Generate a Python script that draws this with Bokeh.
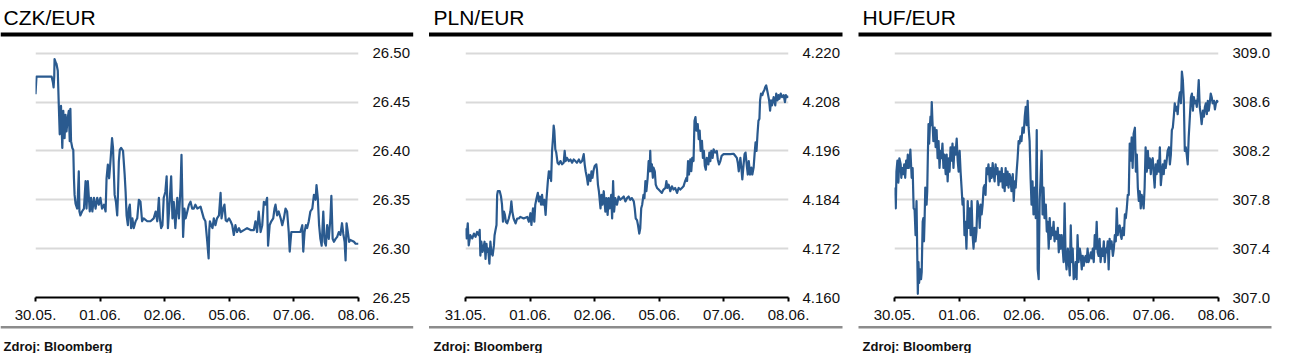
from bokeh.plotting import figure
from bokeh.layouts import row, column
from bokeh.models import Range1d, FixedTicker, PrintfTickFormatter, BoxAnnotation, Label
from bokeh.embed import file_html
from bokeh.resources import INLINE

# ---------------- data ----------------
titles = ["CZK/EUR", "PLN/EUR", "HUF/EUR"]
source_note = "Zdroj: Bloomberg"

tick_pos = [0, 20, 40, 60, 80, 100]
labels_czk = ["30.05.", "01.06.", "02.06.", "05.06.", "07.06.", "08.06."]
labels_pln = ["31.05.", "01.06.", "02.06.", "05.06.", "07.06.", "08.06."]
labels_huf = ["30.05.", "01.06.", "02.06.", "05.06.", "07.06.", "08.06."]

yticks_czk = [26.25, 26.30, 26.35, 26.40, 26.45, 26.50]
yticks_pln = [4.160, 4.172, 4.184, 4.196, 4.208, 4.220]
yticks_huf = [307.0, 307.4, 307.8, 308.2, 308.6, 309.0]

# (time index 0..100, rate)
czk_series = [
    (0.0, 26.458), (0.3, 26.476), (5.0, 26.476), (5.4, 26.470), (5.6, 26.465), (5.8, 26.476),
    (5.9, 26.494), (6.3, 26.490), (6.5, 26.489), (6.9, 26.482), (7.0, 26.470), (7.2, 26.448),
    (7.5, 26.417), (7.9, 26.446), (8.3, 26.403), (8.6, 26.441), (9.0, 26.413), (9.3, 26.437),
    (9.6, 26.420), (10.0, 26.434), (10.3, 26.441), (10.6, 26.410), (10.8, 26.443), (11.0, 26.410),
    (11.4, 26.403), (11.7, 26.401), (11.9, 26.372), (12.1, 26.355), (12.4, 26.346), (12.9, 26.341),
    (13.1, 26.352), (13.4, 26.379), (13.6, 26.338), (13.9, 26.334), (14.4, 26.338), (15.0, 26.341),
    (15.5, 26.369), (15.8, 26.341), (16.2, 26.369), (16.8, 26.338), (17.2, 26.352), (17.6, 26.338),
    (18.1, 26.352), (18.6, 26.341), (19.1, 26.352), (19.6, 26.345), (20.1, 26.352), (20.6, 26.341),
    (21.2, 26.345), (21.7, 26.338), (22.0, 26.372), (22.4, 26.386), (22.8, 26.372), (23.2, 26.389),
    (23.7, 26.413), (24.0, 26.403), (24.5, 26.355), (24.9, 26.348), (25.3, 26.334), (25.5, 26.352),
    (25.8, 26.389), (26.1, 26.401), (26.5, 26.403), (27.1, 26.400), (27.6, 26.376), (27.9, 26.358),
    (28.2, 26.334), (28.6, 26.324), (28.9, 26.341), (29.2, 26.345), (29.6, 26.321), (30.0, 26.331),
    (30.4, 26.321), (31.0, 26.328), (31.5, 26.331), (32.0, 26.350), (32.5, 26.348), (33.0, 26.328),
    (33.5, 26.331), (34.6, 26.328), (35.6, 26.328), (36.6, 26.331), (37.2, 26.338), (37.7, 26.328),
    (38.2, 26.352), (38.5, 26.331), (38.9, 26.321), (39.3, 26.324), (39.7, 26.352), (40.2, 26.358),
    (40.6, 26.374), (41.0, 26.321), (41.6, 26.352), (42.0, 26.374), (42.4, 26.331), (42.8, 26.348),
    (43.3, 26.321), (43.9, 26.352), (44.4, 26.331), (44.9, 26.362), (45.2, 26.396), (45.5, 26.345),
    (45.7, 26.312), (46.1, 26.341), (46.5, 26.331), (47.0, 26.338), (47.5, 26.345), (48.0, 26.348),
    (48.5, 26.341), (49.0, 26.341), (49.5, 26.345), (50.1, 26.341), (51.1, 26.343), (52.1, 26.331),
    (52.6, 26.328), (53.1, 26.310), (53.6, 26.290), (53.8, 26.319), (54.0, 26.328), (54.4, 26.324),
    (54.8, 26.321), (55.2, 26.331), (55.7, 26.324), (56.2, 26.331), (56.8, 26.334), (57.3, 26.357),
    (57.6, 26.331), (58.1, 26.341), (58.5, 26.345), (58.9, 26.329), (59.3, 26.328), (59.9, 26.331),
    (60.4, 26.328), (60.9, 26.324), (61.4, 26.314), (61.9, 26.324), (62.4, 26.317), (63.0, 26.321),
    (63.5, 26.317), (64.5, 26.319), (65.5, 26.321), (66.6, 26.319), (67.6, 26.319), (68.1, 26.328),
    (68.6, 26.317), (69.1, 26.338), (69.7, 26.317), (70.2, 26.324), (70.7, 26.348), (71.2, 26.345),
    (71.7, 26.352), (72.0, 26.303), (72.5, 26.324), (73.0, 26.328), (73.6, 26.331), (74.0, 26.341),
    (74.3, 26.345), (74.8, 26.334), (75.3, 26.338), (75.9, 26.331), (76.4, 26.324), (76.9, 26.331),
    (77.4, 26.341), (77.9, 26.338), (78.4, 26.317), (78.7, 26.297), (79.2, 26.317), (80.0, 26.317),
    (81.0, 26.317), (82.0, 26.317), (82.6, 26.324), (82.9, 26.297), (83.3, 26.317), (83.7, 26.324),
    (84.1, 26.321), (84.6, 26.328), (85.1, 26.338), (85.7, 26.341), (86.2, 26.355), (86.7, 26.350),
    (87.0, 26.365), (87.4, 26.352), (87.8, 26.324), (88.2, 26.310), (88.6, 26.303), (89.1, 26.338),
    (89.5, 26.307), (89.9, 26.303), (90.3, 26.324), (90.8, 26.310), (91.3, 26.331), (91.6, 26.354),
    (92.0, 26.310), (92.4, 26.307), (92.9, 26.310), (93.4, 26.312), (93.9, 26.317), (94.4, 26.314),
    (94.9, 26.326), (95.3, 26.315), (95.7, 26.307), (96.0, 26.288), (96.3, 26.326), (96.7, 26.317),
    (97.1, 26.307), (97.5, 26.309), (98.0, 26.308), (98.6, 26.307), (99.1, 26.305), (100.0, 26.305),
]

pln_series = [
    (0.0, 4.1770), (0.3, 4.1745), (0.7, 4.1782), (1.0, 4.1728), (1.5, 4.1753), (2.1, 4.1745),
    (2.6, 4.1757), (3.1, 4.1749), (3.6, 4.1761), (4.1, 4.1753), (4.4, 4.1766), (4.6, 4.1703),
    (4.9, 4.1737), (5.3, 4.1712), (5.7, 4.1728), (5.9, 4.1737), (6.2, 4.1695), (6.5, 4.1732),
    (6.7, 4.1712), (7.0, 4.1720), (7.4, 4.1683), (7.7, 4.1737), (8.0, 4.1712), (8.4, 4.1703),
    (8.8, 4.1728), (9.0, 4.1753), (9.3, 4.1766), (9.6, 4.1778), (9.8, 4.1852), (10.0, 4.1861),
    (10.6, 4.1861), (11.0, 4.1848), (11.3, 4.1828), (11.6, 4.1786), (11.9, 4.1811), (12.2, 4.1803),
    (12.5, 4.1786), (12.9, 4.1782), (13.4, 4.1794), (13.9, 4.1811), (14.2, 4.1836), (14.5, 4.1811),
    (14.9, 4.1794), (15.5, 4.1782), (16.0, 4.1794), (16.5, 4.1794), (17.0, 4.1798), (18.0, 4.1794),
    (19.1, 4.1798), (19.6, 4.1786), (20.1, 4.1807), (20.4, 4.1778), (20.9, 4.1819), (21.3, 4.1786),
    (21.6, 4.1828), (22.0, 4.1844), (22.4, 4.1857), (22.7, 4.1836), (23.0, 4.1848), (23.4, 4.1828),
    (23.7, 4.1852), (24.0, 4.1828), (24.4, 4.1840), (24.8, 4.1803), (25.1, 4.1844), (25.5, 4.1886),
    (25.8, 4.1910), (26.1, 4.1894), (26.3, 4.1910), (26.5, 4.1886), (26.8, 4.1960), (27.1, 4.1993),
    (27.3, 4.2022), (27.5, 4.2010), (27.8, 4.1964), (28.1, 4.1956), (28.5, 4.1931), (28.9, 4.1927),
    (29.4, 4.1935), (29.9, 4.1927), (30.4, 4.1931), (30.7, 4.1960), (31.0, 4.1935), (31.4, 4.1943),
    (32.0, 4.1935), (32.5, 4.1939), (33.0, 4.1931), (33.5, 4.1939), (34.0, 4.1935), (34.5, 4.1931),
    (35.1, 4.1939), (35.6, 4.1931), (36.1, 4.1935), (36.6, 4.1952), (36.9, 4.1927), (37.2, 4.1910),
    (37.6, 4.1894), (37.9, 4.1877), (38.2, 4.1902), (38.7, 4.1886), (39.0, 4.1910), (39.3, 4.1894),
    (39.7, 4.1914), (40.0, 4.1923), (40.5, 4.1927), (40.7, 4.1914), (41.0, 4.1877), (41.3, 4.1861),
    (41.8, 4.1819), (42.1, 4.1852), (42.4, 4.1828), (42.8, 4.1861), (43.3, 4.1811), (43.6, 4.1844),
    (44.0, 4.1803), (44.3, 4.1844), (44.6, 4.1819), (45.1, 4.1852), (45.4, 4.1794), (45.7, 4.1886),
    (46.0, 4.1811), (46.4, 4.1844), (46.9, 4.1828), (47.4, 4.1848), (47.9, 4.1840), (48.5, 4.1844),
    (49.0, 4.1848), (49.5, 4.1836), (50.0, 4.1844), (50.5, 4.1848), (51.0, 4.1840), (51.5, 4.1844),
    (52.1, 4.1836), (52.4, 4.1819), (52.7, 4.1794), (53.1, 4.1790), (53.4, 4.1778), (53.8, 4.1757),
    (54.1, 4.1770), (54.4, 4.1819), (54.7, 4.1828), (55.1, 4.1852), (55.4, 4.1844), (55.7, 4.1886),
    (56.0, 4.1861), (56.4, 4.1894), (56.7, 4.1935), (57.0, 4.1910), (57.2, 4.1960), (57.4, 4.1910),
    (57.7, 4.1927), (58.0, 4.1894), (58.2, 4.1919), (58.6, 4.1910), (58.9, 4.1877), (59.3, 4.1869),
    (59.8, 4.1865), (60.3, 4.1861), (60.8, 4.1857), (61.3, 4.1865), (61.9, 4.1869), (62.2, 4.1886),
    (62.5, 4.1869), (62.9, 4.1877), (63.4, 4.1861), (63.9, 4.1873), (64.4, 4.1865), (64.9, 4.1869),
    (65.5, 4.1857), (66.0, 4.1869), (66.5, 4.1865), (67.0, 4.1869), (67.5, 4.1873), (68.0, 4.1886),
    (68.4, 4.1894), (68.6, 4.1886), (68.9, 4.1935), (69.2, 4.1902), (69.6, 4.1939), (69.9, 4.1910),
    (70.2, 4.1943), (70.6, 4.1935), (70.9, 4.2034), (71.2, 4.2043), (71.5, 4.2010), (71.9, 4.2026),
    (72.2, 4.1989), (72.5, 4.2010), (72.8, 4.1960), (73.2, 4.1985), (73.5, 4.1943), (73.8, 4.1960),
    (74.1, 4.1923), (74.4, 4.1914), (74.7, 4.1943), (75.2, 4.1927), (75.5, 4.1956), (75.8, 4.1935),
    (76.1, 4.1960), (76.5, 4.1943), (76.8, 4.1964), (77.3, 4.1956), (77.8, 4.1960), (78.1, 4.1939),
    (78.5, 4.1927), (78.9, 4.1935), (79.3, 4.1948), (79.9, 4.1952), (80.9, 4.1952), (82.0, 4.1952),
    (83.0, 4.1953), (83.5, 4.1948), (84.0, 4.1943), (84.3, 4.1931), (84.6, 4.1910), (85.1, 4.1943),
    (85.4, 4.1919), (85.7, 4.1890), (86.1, 4.1927), (86.4, 4.1952), (86.7, 4.1956), (87.1, 4.1923),
    (87.4, 4.1902), (87.7, 4.1935), (88.1, 4.1902), (88.5, 4.1919), (88.8, 4.1902), (89.2, 4.1919),
    (89.5, 4.1952), (89.8, 4.1981), (90.1, 4.1960), (90.4, 4.2001), (90.7, 4.2034), (91.0, 4.2039),
    (91.2, 4.2084), (91.5, 4.2101), (91.9, 4.2097), (92.2, 4.2105), (92.5, 4.2109), (92.8, 4.2117),
    (93.1, 4.2121), (93.4, 4.2109), (93.7, 4.2097), (94.0, 4.2084), (94.3, 4.2059), (94.6, 4.2084),
    (94.9, 4.2072), (95.4, 4.2092), (95.9, 4.2072), (96.2, 4.2101), (96.6, 4.2084), (96.9, 4.2097),
    (97.2, 4.2088), (97.6, 4.2101), (98.0, 4.2092), (98.5, 4.2097), (98.9, 4.2080), (99.2, 4.2097),
    (99.5, 4.2092), (100.0, 4.2094),
]

huf_series = [
    (0.0, 307.90), (0.2, 307.84), (0.4, 307.73), (0.6, 308.03), (0.9, 308.12), (1.2, 307.94),
    (1.5, 308.14), (1.9, 308.09), (2.1, 307.98), (2.4, 308.06), (2.7, 308.01), (3.0, 308.09),
    (3.3, 307.98), (3.6, 308.12), (3.9, 308.06), (4.1, 308.17), (4.4, 308.06), (4.7, 308.12),
    (4.9, 308.21), (5.3, 307.98), (5.6, 308.06), (5.9, 307.73), (6.2, 307.72), (6.5, 307.51),
    (6.8, 307.79), (7.0, 307.40), (7.2, 307.03), (7.4, 307.29), (7.6, 307.12), (7.9, 307.23),
    (8.2, 307.15), (8.4, 307.21), (8.7, 307.62), (8.9, 307.65), (9.1, 307.46), (9.3, 307.65),
    (9.5, 307.90), (9.7, 307.84), (9.9, 307.76), (10.1, 307.87), (10.3, 308.17), (10.5, 308.42),
    (10.7, 308.26), (10.9, 308.39), (11.1, 308.48), (11.3, 308.41), (11.5, 308.60), (11.7, 308.45),
    (12.0, 308.28), (12.4, 308.39), (12.7, 308.23), (13.0, 308.37), (13.3, 308.14), (13.6, 308.28),
    (13.9, 308.06), (14.2, 308.20), (14.5, 308.14), (14.8, 308.26), (15.1, 308.06), (15.4, 308.17),
    (15.8, 308.01), (16.1, 308.17), (16.4, 307.95), (16.7, 308.14), (17.0, 308.03), (17.3, 308.23),
    (17.6, 308.12), (17.9, 308.26), (18.2, 308.06), (18.5, 308.23), (18.8, 308.17), (19.2, 308.30),
    (19.5, 308.12), (19.8, 308.03), (20.1, 308.20), (20.4, 308.03), (20.7, 307.90), (21.0, 307.76),
    (21.3, 307.81), (21.6, 307.51), (21.9, 307.62), (22.2, 307.40), (22.6, 307.79), (22.9, 307.57),
    (23.2, 307.73), (23.5, 307.51), (23.8, 307.79), (24.1, 307.51), (24.4, 307.40), (24.7, 307.57),
    (25.0, 307.46), (25.3, 307.54), (25.6, 307.79), (26.0, 307.73), (26.3, 307.57), (26.6, 307.76),
    (26.9, 307.68), (27.2, 307.76), (27.5, 307.90), (27.8, 307.92), (28.1, 307.84), (28.4, 308.06),
    (28.7, 308.01), (29.0, 308.09), (29.4, 307.95), (29.7, 308.06), (30.0, 307.98), (30.3, 308.10),
    (30.6, 308.01), (30.9, 307.95), (31.2, 308.09), (31.5, 308.01), (31.8, 308.06), (32.1, 307.92),
    (32.4, 308.03), (32.7, 307.95), (33.1, 308.06), (33.4, 307.90), (33.7, 308.01), (34.0, 307.87),
    (34.3, 308.06), (34.6, 307.92), (34.9, 308.03), (35.2, 307.90), (35.5, 308.01), (35.8, 307.98),
    (36.1, 307.87), (36.5, 308.01), (36.8, 307.79), (37.1, 307.95), (37.4, 307.90), (37.7, 308.03),
    (38.0, 308.14), (38.3, 308.28), (38.6, 308.26), (38.9, 308.32), (39.2, 308.28), (39.5, 308.39),
    (39.9, 308.35), (40.2, 308.48), (40.5, 308.56), (40.8, 308.41), (41.1, 308.61), (41.4, 308.39),
    (41.7, 308.28), (42.0, 307.98), (42.3, 307.76), (42.6, 307.95), (42.9, 307.68), (43.3, 307.90),
    (43.6, 307.65), (43.9, 308.37), (44.2, 307.23), (44.5, 307.15), (44.8, 307.79), (45.1, 307.98),
    (45.4, 308.20), (45.7, 307.68), (46.0, 307.90), (46.3, 307.65), (46.7, 307.76), (47.0, 307.54),
    (47.3, 307.62), (47.6, 307.40), (47.9, 307.65), (48.2, 307.48), (48.5, 307.57), (48.8, 307.51),
    (49.1, 307.62), (49.4, 307.46), (49.7, 307.54), (50.1, 307.48), (50.4, 307.57), (50.7, 307.37),
    (51.0, 307.51), (51.3, 307.40), (51.6, 307.51), (51.9, 307.40), (52.2, 307.29), (52.5, 307.77),
    (52.8, 307.34), (53.1, 307.23), (53.5, 307.40), (53.8, 307.29), (54.1, 307.18), (54.4, 307.59),
    (54.7, 307.29), (55.0, 307.40), (55.3, 307.15), (55.6, 307.18), (55.9, 307.29), (56.2, 307.15),
    (56.5, 307.51), (56.8, 307.29), (57.2, 307.40), (57.5, 307.34), (57.8, 307.23), (58.1, 307.34),
    (58.4, 307.26), (58.7, 307.32), (59.0, 307.34), (59.3, 307.29), (59.6, 307.40), (59.9, 307.29),
    (60.2, 307.32), (60.6, 307.37), (60.9, 307.32), (61.2, 307.40), (61.5, 307.29), (61.8, 307.51),
    (62.1, 307.40), (62.4, 307.62), (62.7, 307.37), (63.0, 307.34), (63.3, 307.48), (63.6, 307.29),
    (64.0, 307.40), (64.3, 307.34), (64.6, 307.46), (64.9, 307.29), (65.2, 307.40), (65.5, 307.37),
    (65.8, 307.46), (66.1, 307.23), (66.4, 307.48), (66.7, 307.40), (67.0, 307.46), (67.4, 307.34),
    (67.7, 307.40), (68.0, 307.51), (68.3, 307.46), (68.6, 307.73), (68.9, 307.51), (69.2, 307.57),
    (69.5, 307.59), (69.8, 307.51), (70.1, 307.48), (70.4, 307.57), (70.8, 307.51), (71.1, 307.68),
    (71.4, 307.65), (71.7, 307.73), (72.0, 307.84), (72.3, 307.84), (72.6, 308.26), (72.9, 308.12),
    (73.2, 308.31), (73.5, 308.06), (73.8, 308.34), (74.2, 308.39), (74.5, 308.03), (74.8, 308.17),
    (75.1, 307.90), (75.4, 307.79), (75.7, 307.87), (76.0, 307.73), (76.3, 307.84), (76.6, 307.79),
    (76.9, 307.73), (77.2, 307.90), (77.5, 308.23), (77.9, 308.03), (78.2, 308.20), (78.5, 308.06),
    (78.8, 308.14), (79.1, 308.01), (79.4, 308.12), (79.7, 308.14), (80.0, 308.01), (80.3, 307.90),
    (80.6, 308.09), (80.9, 308.01), (81.3, 308.12), (81.6, 308.03), (81.9, 308.23), (82.2, 307.92),
    (82.5, 308.01), (82.8, 308.09), (83.1, 308.01), (83.4, 308.12), (83.7, 308.06), (84.0, 308.12),
    (84.3, 308.20), (84.7, 308.23), (85.0, 308.09), (85.3, 308.17), (85.6, 308.37), (85.9, 308.39),
    (86.2, 308.48), (86.5, 308.59), (86.8, 308.53), (87.1, 308.56), (87.4, 308.50), (87.7, 308.61),
    (88.1, 308.68), (88.4, 308.59), (88.7, 308.85), (89.0, 308.78), (89.3, 308.61), (89.6, 308.20),
    (89.9, 308.23), (90.2, 308.17), (90.5, 308.09), (90.8, 308.31), (91.1, 308.45), (91.5, 308.64),
    (91.8, 308.67), (92.1, 308.53), (92.4, 308.64), (92.7, 308.59), (93.0, 308.61), (93.3, 308.56),
    (93.6, 308.64), (93.9, 308.78), (94.2, 308.56), (94.5, 308.50), (94.8, 308.42), (95.2, 308.53),
    (95.5, 308.48), (95.8, 308.56), (96.1, 308.59), (96.4, 308.50), (96.7, 308.61), (97.0, 308.53),
    (97.3, 308.59), (97.6, 308.67), (97.9, 308.64), (98.2, 308.59), (98.6, 308.61), (98.9, 308.54),
    (99.2, 308.59), (99.5, 308.61), (100.0, 308.60),
]

# ---------------- styling / layout ----------------
FONT = "Liberation Sans"
LINE_COLOR = "#2a5a8f"
GRID_COLOR = "#d9d9d9"
TOTAL_W = 1290
TOP_H = 40       # strip with titles and black rules
MAIN_H = 285     # the three charts
BOTTOM_H = 28    # strip with grey rules and source note

panel_x0 = [0, 428.5, 858]          # left edge of each panel's rules
panel_rule_end = [412.7, 842, 1271]
panel_text_x = [3, 433, 862]


def strip(height):
    s = figure(width=TOTAL_W, height=height, output_backend="svg", toolbar_location=None,
               title=None, x_range=Range1d(0, TOTAL_W), y_range=Range1d(height, 0),
               x_axis_location=None, y_axis_location=None,
               min_border=0, min_border_left=0, min_border_right=0,
               min_border_top=0, min_border_bottom=0)
    s.outline_line_color = None
    s.background_fill_color = "white"
    s.border_fill_color = "white"
    s.grid.visible = False
    return s


top = strip(TOP_H)
bottom = strip(BOTTOM_H)
for i in range(3):
    top.add_layout(Label(x=panel_text_x[i], y=16.5, text=titles[i], text_font=FONT,
                         text_font_size="21px", text_color="black",
                         text_baseline="middle", text_align="left"))
    top.add_layout(BoxAnnotation(left=panel_x0[i], right=panel_rule_end[i], top=32, bottom=36,
                                 fill_color="black", fill_alpha=1.0, line_color=None))
    bottom.add_layout(BoxAnnotation(left=panel_x0[i], right=panel_rule_end[i], top=0.5, bottom=3.0,
                                    fill_color="#8c8c8c", fill_alpha=1.0, line_color=None))
    bottom.add_layout(Label(x=panel_text_x[i], y=21.0, text=source_note, text_font=FONT,
                            text_font_size="13px", text_font_style="bold", text_color="#111111",
                            text_baseline="middle", text_align="left"))


def make_panel(series, date_labels, yticks, fmt, width, left, right):
    xs = [pt[0] for pt in series]
    ys = [pt[1] for pt in series]
    y0, y1 = yticks[0], yticks[-1]
    pad = (y1 - y0) * 0.011
    p = figure(width=width, height=MAIN_H, output_backend="svg", toolbar_location=None,
               title=None, x_range=Range1d(tick_pos[0], tick_pos[-1]),
               y_range=Range1d(y0, y1 + pad), y_axis_location="right",
               min_border_left=left, min_border_right=right,
               min_border_top=10, min_border_bottom=28)
    p.outline_line_color = None
    p.background_fill_color = "white"
    p.border_fill_color = "white"

    p.line(xs, ys, line_color=LINE_COLOR, line_width=2.2, line_join="round")

    p.xgrid.grid_line_color = None
    p.ygrid.grid_line_color = GRID_COLOR
    p.ygrid.grid_line_width = 2

    xa = p.xaxis[0]
    xa.ticker = FixedTicker(ticks=tick_pos)
    xa.major_label_overrides = {t: lab for t, lab in zip(tick_pos, date_labels)}
    xa.axis_line_color = "black"
    xa.axis_line_width = 2
    xa.major_tick_line_color = "black"
    xa.major_tick_line_width = 2
    xa.major_tick_out = 4
    xa.major_tick_in = 0
    xa.minor_tick_line_color = None
    xa.minor_tick_out = 0
    xa.minor_tick_in = 0
    xa.major_label_text_font = FONT
    xa.major_label_text_font_size = "15px"
    xa.major_label_text_color = "#111111"
    xa.major_label_standoff = 8

    ya = p.yaxis[0]
    ya.ticker = FixedTicker(ticks=yticks)
    ya.formatter = PrintfTickFormatter(format=fmt)
    ya.axis_line_color = None
    ya.major_tick_line_color = None
    ya.minor_tick_line_color = None
    ya.major_tick_out = 0
    ya.major_tick_in = 0
    ya.minor_tick_out = 0
    ya.minor_tick_in = 0
    ya.major_label_text_font = FONT
    ya.major_label_text_font_size = "15px"
    ya.major_label_text_color = "#111111"
    ya.major_label_standoff = 14
    return p


p1 = make_panel(czk_series, labels_czk, yticks_czk, "%.2f", 428, 35, 70)
p2 = make_panel(pln_series, labels_pln, yticks_pln, "%.3f", 430, 37, 70)
p3 = make_panel(huf_series, labels_huf, yticks_huf, "%.1f", 432, 36, 72)

layout = column(top, row(p1, p2, p3, spacing=0), bottom, spacing=0)

with open("out.html", "w") as f:
    f.write(file_html(layout, INLINE))
